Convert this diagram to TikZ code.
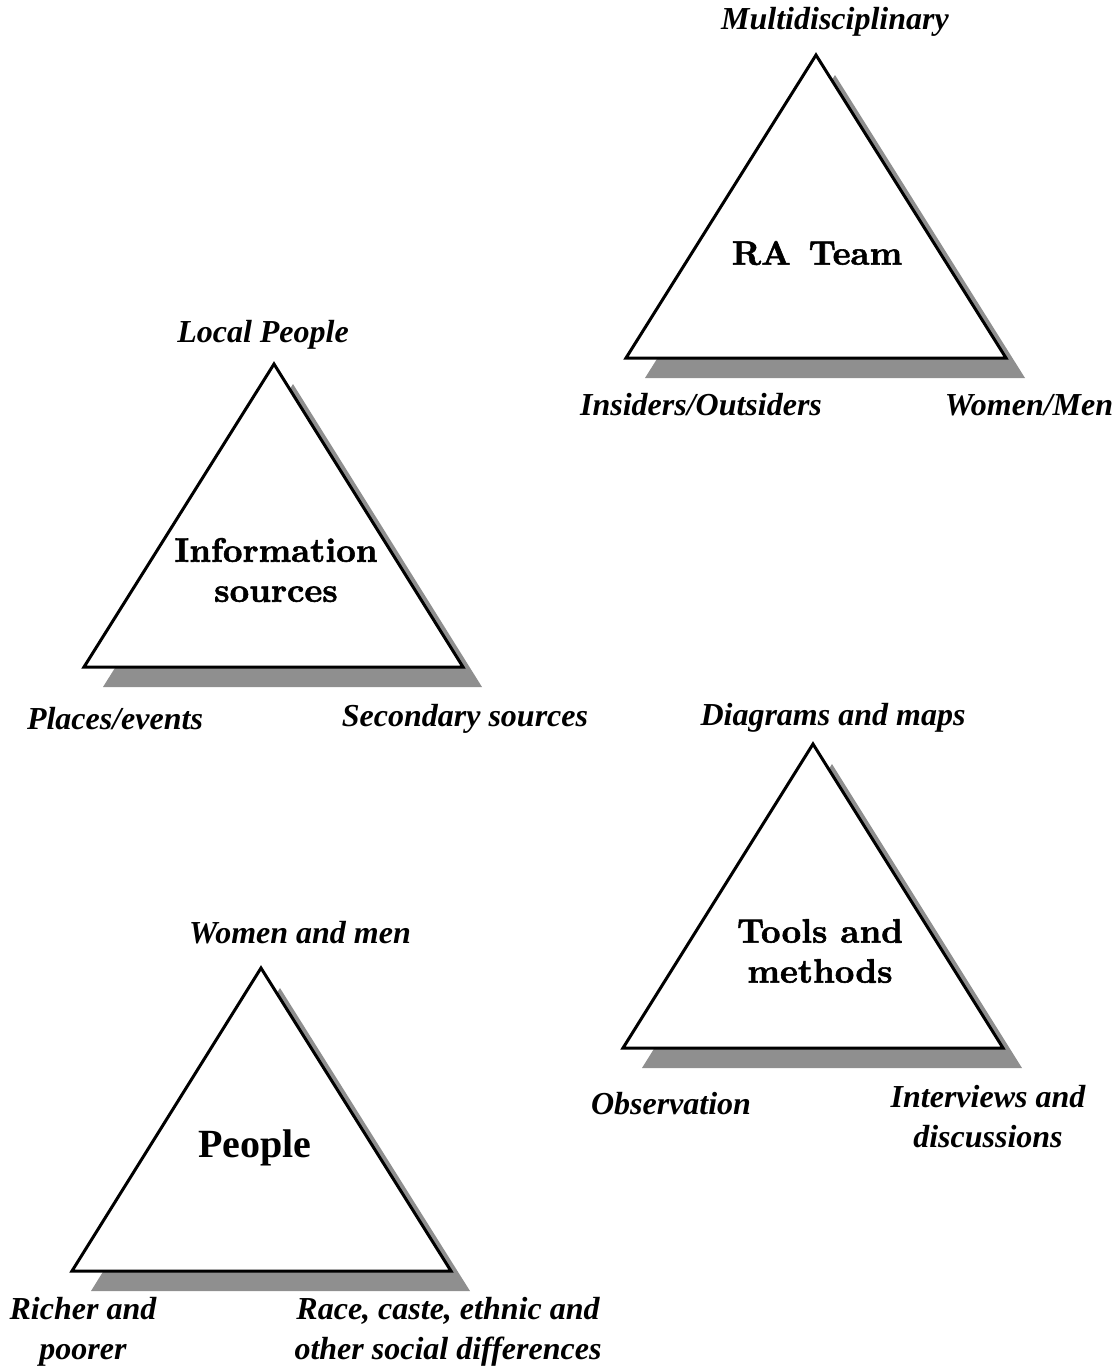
\documentclass[tikz,border=0pt]{standalone}
\usepackage{fontspec}
\setmainfont{Liberation Serif}
\newfontfamily\lmbold[Extension=.otf, FakeBold=1.6]{lmroman10-bold}
\usepackage{xcolor}
\usepackage{tikz}
\usetikzlibrary{positioning}

\definecolor{shadowgray}{RGB}{143,143,143}

\tikzset{
  corner/.style={font=\fontsize{16}{20}\selectfont\bfseries\itshape, align=center},
  title/.style={font=\lmbold\fontsize{17}{20}\selectfont, align=center},
  tri/.style={draw=black, line width=1.5pt, fill=white, line join=miter},
  shade/.style={fill=shadowgray},
}

\begin{document}
\begin{tikzpicture}[x=0.5pt, y=-0.5pt]

\useasboundingbox (0,0) rectangle (1120,1367);

% RA team
\coordinate(A) at (816, 55);
\coordinate(B) at (626, 358);
\coordinate(C) at (1006, 358);

\fill [shade] ([shift={(19,20)}]A) -- ([shift={(19,20)}]B) -- ([shift={(19,20)}]C) -- cycle;
\draw [tri] (A) -- (B) -- (C) -- cycle;
\node[title] (ra) at (817, 253) {RA\hspace{9pt}Team};

\node[corner] (multi) at (835, 22) {Multidisciplinary};
\node[corner] (insout) at (701, 405) {Insiders/Outsiders};
\node[corner] (womenmen) at (1029, 405) {Women/Men};

% information sources
\coordinate(D) at (274, 364);
\coordinate(E) at (84, 667);
\coordinate(F) at (463, 667);

\fill [shade] ([shift={(19,20)}]D) -- ([shift={(19,20)}]E) -- ([shift={(19,20)}]F) -- cycle;
\draw [tri] (D) -- (E) -- (F) -- cycle;
\node[title] (info) at (276, 570) {Information\\sources};

\node[corner] (local) at (263, 335) {Local People};
\node[corner] (places) at (115, 719) {Places/events};
\node[corner] (second) at (465, 719) {Secondary sources};

% people
\coordinate(G) at (261, 968);
\coordinate(H) at (72, 1271);
\coordinate(I) at (451, 1271);

\fill [shade] ([shift={(19,20)}]G) -- ([shift={(19,20)}]H) -- ([shift={(19,20)}]I) -- cycle;
\draw [tri] (G) -- (H) -- (I) -- cycle;
\node[font=\fontsize{20}{24}\selectfont\bfseries] (people) at (255, 1148) {People};

\node[corner] (wam) at (300, 933) {Women and men};
\node[corner] (rich) at (83, 1332) {Richer and\\poorer};
\node[corner] (race) at (448, 1332) {Race, caste, ethnic and\\other social differences};

% tools and methods
\coordinate(J) at (813, 744);
\coordinate(K) at (623, 1048);
\coordinate(L) at (1003, 1048);

\fill [shade] ([shift={(19,20)}]J) -- ([shift={(19,20)}]K) -- ([shift={(19,20)}]L) -- cycle;
\draw [tri] (J) -- (K) -- (L) -- cycle;
\node[title] (tools) at (820, 951) {Tools and\\methods};

\node[corner] (diag) at (833, 718) {Diagrams and maps};
\node[corner] (obs) at (671, 1104) {Observation};
\node[corner] (interv) at (988, 1117) {Interviews and\\discussions};

\end{tikzpicture}
\end{document}
